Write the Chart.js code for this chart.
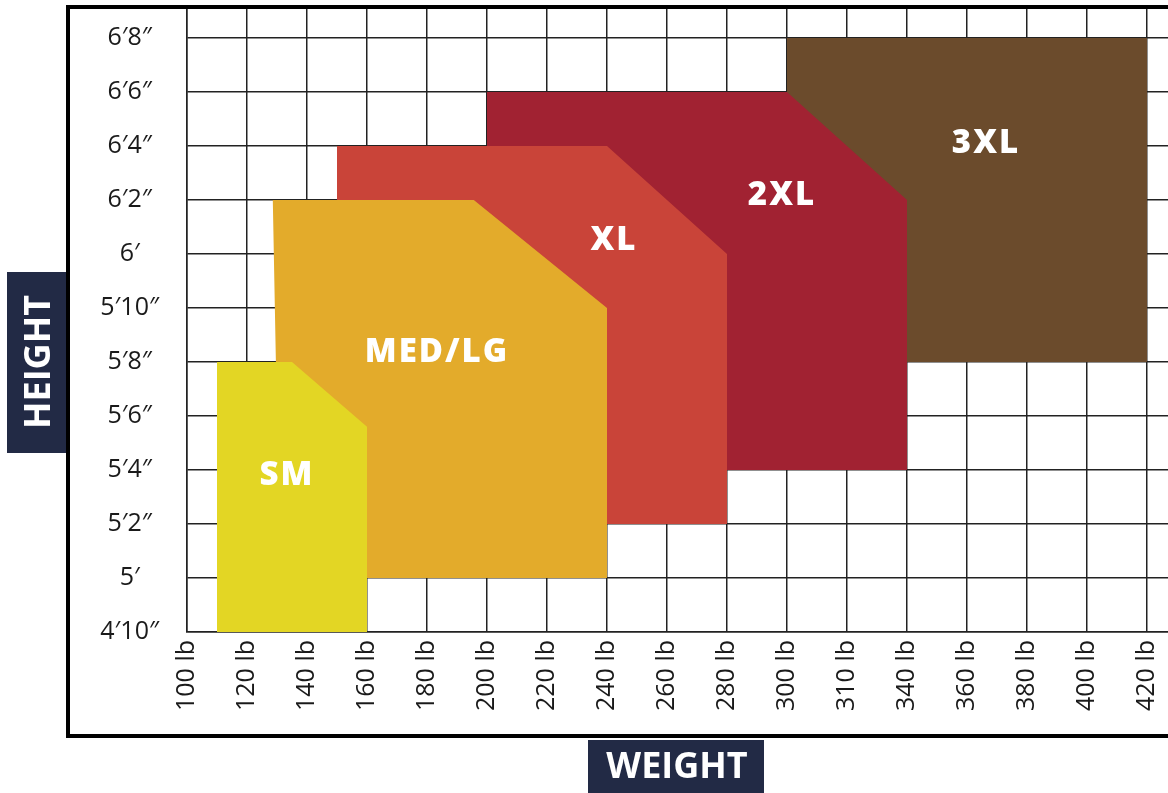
<!DOCTYPE html>
<html>
<head>
<meta charset="utf-8">
<script src="https://cdn.jsdelivr.net/npm/chart.js@4/dist/chart.umd.min.js"></script>
<style>
  html, body { margin: 0; padding: 0; background: #fff; }
  #wrap { width: 1168px; height: 793px; position: relative; }
</style>
</head>
<body>
<div id="wrap"><canvas id="sizeChart"></canvas></div>
<script>
'use strict';

// axis labels
const weightLabels = ['100 lb', '120 lb', '140 lb', '160 lb', '180 lb', '200 lb', '220 lb', '240 lb', '260 lb',
    '280 lb', '300 lb', '310 lb', '340 lb', '360 lb', '380 lb', '400 lb', '420 lb'];
const heightTicks = [58, 60, 62, 64, 66, 68, 70, 72, 74, 76, 78, 80]; // inches

// size regions: weight = position on the weight axis (index of label), height = inches
const sizeNames = ['SM', 'MED/LG', 'XL', '2XL', '3XL'];
const smWeight = [0.5, 0.5, 1.75, 3, 3];
const smHeight = [58, 68, 68, 65.6, 58];
const medWeight = [1.55, 1.43, 4.78, 7, 7];
const medHeight = [60, 74, 74, 70, 60];
const xlWeight = [2.5, 2.5, 7, 9, 9];
const xlHeight = [62, 76, 76, 72, 62];
const xxlWeight = [5, 5, 10, 12, 12];
const xxlHeight = [64, 78, 78, 74, 64];
const xxxlWeight = [10, 10, 16, 16];
const xxxlHeight = [68, 80, 80, 68];

const sizeColors = ['#e3d624', '#e3ab2b', '#c94439', '#a12232', '#6b4b2c'];
const navy = '#222a45';

const toPoints = (xs, ys) => xs.map((x, i) => ({ x: x, y: ys[i] }));

const regions = [
    toPoints(smWeight, smHeight),
    toPoints(medWeight, medHeight),
    toPoints(xlWeight, xlHeight),
    toPoints(xxlWeight, xxlHeight),
    toPoints(xxxlWeight, xxxlHeight)
];

// where the size name sits inside each region (axis units)
const labelSpots = [[1.65, 63.8], [4.15, 68.35], [7.1, 72.5], [9.9, 74.15], [13.3, 76.1]];

function heightText(v) {
    const ft = Math.floor(v / 12);
    const inch = v % 12;
    return inch === 0 ? `${ft}\u2032` : `${ft}\u2032${inch}\u2033`;
}

// no extra room for tick labels, the layout is fixed
function noAutoPadding(scale) {
    scale.paddingTop = 0;
    scale.paddingBottom = 0;
    scale.paddingLeft = 0;
    scale.paddingRight = 0;
}

// frame, title boxes and size names
const decorations = {
    id: 'decorations',
    afterDatasetsDraw(chart) {
        const { ctx, scales: { x, y } } = chart;
        ctx.save();

        // size names
        ctx.fillStyle = '#ffffff';
        ctx.font = "800 33px 'Open Sans', sans-serif";
        ctx.letterSpacing = '2px';
        ctx.textAlign = 'center';
        ctx.textBaseline = 'middle';
        sizeNames.forEach((name, i) => {
            const [wx, hy] = labelSpots[i];
            ctx.fillText(name, x.getPixelForValue(wx) + 1, y.getPixelForValue(hy));
        });
        ctx.restore();
    },
    afterDraw(chart) {
        const { ctx } = chart;
        ctx.save();

        // outer frame
        ctx.strokeStyle = '#000';
        ctx.lineWidth = 4;
        ctx.beginPath();
        ctx.moveTo(1170, 7);
        ctx.lineTo(68, 7);
        ctx.lineTo(68, 736);
        ctx.lineTo(1170, 736);
        ctx.stroke();

        // axis title boxes
        ctx.fillStyle = navy;
        ctx.fillRect(7, 272, 59, 181);
        ctx.fillRect(588, 740, 176, 53);

        ctx.fillStyle = '#fff';
        ctx.font = "bold 36px 'Open Sans', sans-serif";
        ctx.textAlign = 'center';
        ctx.textBaseline = 'middle';
        ctx.fillText('WEIGHT', 677, 768);

        ctx.translate(38, 362);
        ctx.rotate(-Math.PI / 2);
        ctx.fillText('HEIGHT', 0, 2);
        ctx.restore();
    }
};

const chartCanvas = document.getElementById('sizeChart');

new Chart(chartCanvas, {
    type: 'line',
    data: {
        datasets: regions.map((pts, i) => ({
            label: sizeNames[i],
            data: pts,
            backgroundColor: sizeColors[i],
            borderWidth: 0,
            pointRadius: 0,
            fill: 'shape',
            tension: 0
        }))
    },
    options: {
        responsive: true,
        maintainAspectRatio: false,
        animation: false,
        events: [],
        layout: {
            autoPadding: false,
            padding: { top: 9, left: 70, right: 0, bottom: 0 }
        },
        plugins: {
            legend: { display: false },
            tooltip: { enabled: false }
        },
        scales: {
            x: {
                type: 'linear',
                min: 0,
                max: 16.35,
                grid: { color: '#222', lineWidth: 1.5, drawTicks: false },
                border: { color: '#222', width: 1.5 },
                ticks: {
                    stepSize: 1,
                    includeBounds: false,
                    autoSkip: false,
                    minRotation: 90,
                    maxRotation: 90,
                    padding: 8,
                    color: '#1a1a1a',
                    font: { family: "'Open Sans', sans-serif", size: 25 },
                    callback: (v) => weightLabels[v]
                },
                afterFit(scale) {
                    scale.height = 161;
                    noAutoPadding(scale);
                }
            },
            y: {
                type: 'linear',
                min: 58,
                max: 81.07,
                afterBuildTicks(scale) {
                    scale.ticks = heightTicks.map(v => ({ value: v }));
                },
                grid: { color: '#222', lineWidth: 1.5, drawTicks: false },
                border: { color: '#222', width: 1.5 },
                ticks: {
                    crossAlign: 'center',
                    padding: 28,
                    color: '#1a1a1a',
                    font: { family: "'Open Sans', sans-serif", size: 25 },
                    callback: (v) => heightText(v)
                },
                afterFit(scale) {
                    scale.width = 117;
                    noAutoPadding(scale);
                }
            }
        }
    },
    plugins: [decorations]
});
</script>
</body>
</html>
